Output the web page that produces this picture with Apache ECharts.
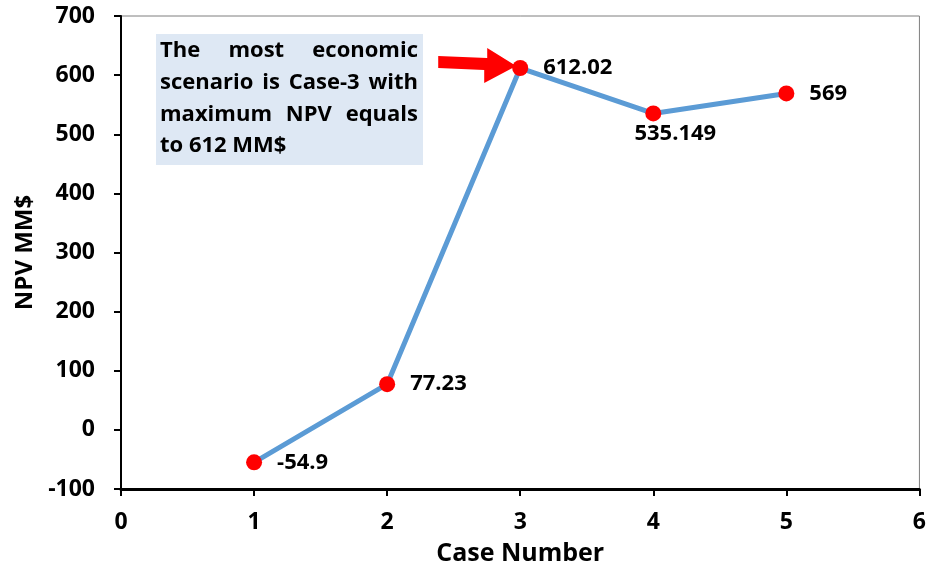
<!DOCTYPE html>
<html>
<head>
<meta charset="utf-8">
<script src="https://cdn.jsdelivr.net/npm/echarts@6/dist/echarts.min.js"></script>
<style>
html, body { margin: 0; padding: 0; background: #fff; }
#char { width: 929px; height: 572px; }
</style>
</head>
<body>
<div id="char"></div>
<script>
// data
var caseNo = [1, 2, 3, 4, 5];
var npv = [-54.9, 77.23, 612.02, 535.149, 569];
var npvLabels = ['-54.9', '77.23', '612.02', '535.149', '569'];
var noteLines = ['The most economic', 'scenario is Case-3 with', 'maximum NPV equals', 'to 612 MM$'];

var FONT = 'Open Sans';

function draw() {
    var dom = document.getElementById("char");
    var myChart = echarts.init(dom);

    var pts = [];
    for (var i = 0; i < caseNo.length; i++) {
        var lbl = { show: true, formatter: npvLabels[i], position: 'right', distance: 15 };
        if (i === 3) {
            // this one sits under the point, a bit to the right
            lbl = { show: true, formatter: npvLabels[i], position: 'bottom', distance: 1, offset: [22, 0] };
        }
        pts.push({ value: [caseNo[i], npv[i]], label: lbl });
    }

    var option = {
        animation: false,
        textStyle: { fontFamily: FONT },
        grid: {
            left: 121, right: 8, top: 16, bottom: 83,
            show: true, borderColor: '#7f7f7f', borderWidth: 1
        },
        xAxis: {
            type: 'value', min: 0, max: 6, interval: 1,
            name: 'Case Number', nameLocation: 'middle', nameGap: 52,
            nameTextStyle: { fontSize: 25, fontWeight: 'bold', color: '#000', fontFamily: FONT },
            axisLine: { onZero: false, lineStyle: { color: '#000', width: 3 } },
            axisTick: { show: true, length: 7, lineStyle: { color: '#000', width: 2 } },
            axisLabel: { fontSize: 23, fontWeight: 'bold', color: '#000', margin: 22, fontFamily: FONT },
            splitLine: { show: false }
        },
        yAxis: {
            type: 'value', min: -100, max: 700, interval: 100,
            name: 'NPV MM$', nameLocation: 'middle', nameGap: 83,
            nameTextStyle: { fontSize: 24, fontWeight: 'bold', color: '#000', fontFamily: FONT },
            axisLine: { onZero: false, lineStyle: { color: '#000', width: 2 } },
            axisTick: { show: true, length: 7, lineStyle: { color: '#000', width: 2 } },
            axisLabel: { fontSize: 23, fontWeight: 'bold', color: '#000', margin: 26, fontFamily: FONT },
            splitLine: { show: false }
        },
        series: [{
            type: 'line',
            data: pts,
            symbol: 'circle',
            symbolSize: 16,
            lineStyle: { color: '#5B9BD5', width: 5 },
            itemStyle: { color: '#FF0000' },
            label: { color: '#000', fontSize: 22, fontWeight: 'bold', fontFamily: FONT },
            z: 3
        }]
    };
    myChart.setOption(option);

    // annotation box (justified text, like the word box) + arrow
    var tip = myChart.convertToPixel({ gridIndex: 0 }, [caseNo[2], npv[2]]);
    var tx = tip[0], ty = tip[1];
    var fs = 22;
    var ctx = document.createElement('canvas').getContext('2d');
    ctx.font = 'bold ' + fs + 'px "' + FONT + '"';
    var left = 160, right = 418, top = 51, lh = 31.7;
    var graphics = [
        { type: 'rect', shape: { x: 156, y: 34, width: 267, height: 131 },
          style: { fill: '#DEE8F4' }, z: 5 }
    ];
    for (var l = 0; l < noteLines.length; l++) {
        var words = noteLines[l].split(' ');
        var y = top + l * lh;
        var last = (l === noteLines.length - 1);
        var total = 0;
        words.forEach(function (w) { total += ctx.measureText(w).width; });
        var gap = last ? ctx.measureText(' ').width : (right - left - total) / (words.length - 1);
        var x = left;
        for (var k = 0; k < words.length; k++) {
            graphics.push({ type: 'text', x: x, y: y, z: 10,
                style: { text: words[k], align: 'left', verticalAlign: 'middle',
                         fontSize: fs, fontWeight: 'bold', fill: '#000', fontFamily: FONT } });
            x += ctx.measureText(words[k]).width + gap;
        }
    }
    graphics.push({ type: 'polygon', z: 1,
        shape: { points: [
            [tx - 82, ty - 12], [tx - 33, ty - 10], [tx - 33, ty - 20],
            [tx - 4, ty - 2], [tx - 36, ty + 15], [tx - 36, ty + 2], [tx - 82, ty]
        ] },
        style: { fill: '#FF0000' } });
    myChart.setOption({ graphic: graphics });
}

draw();
</script>
</body>
</html>
